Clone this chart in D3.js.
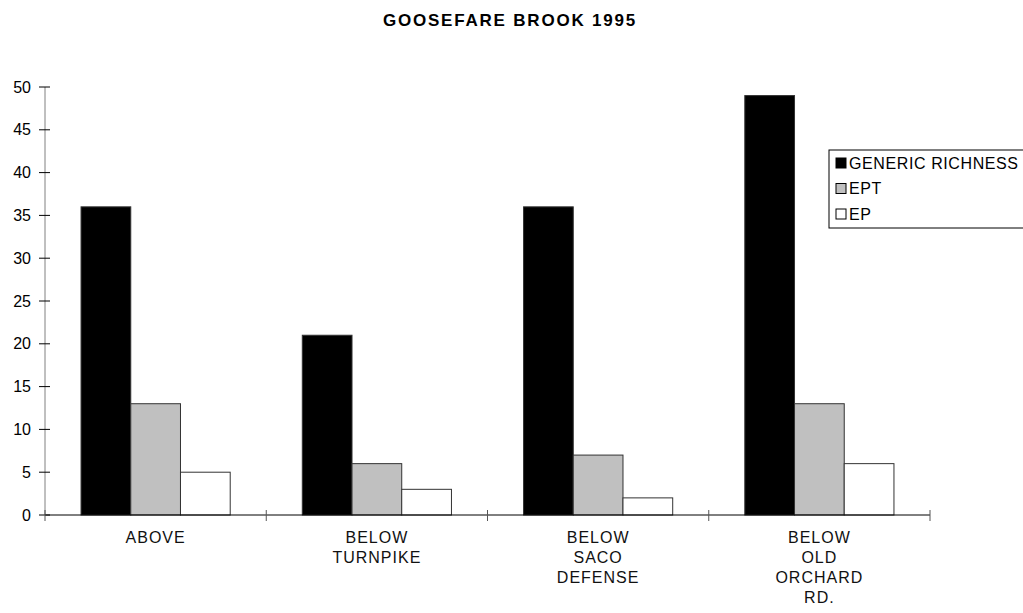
<!DOCTYPE html>
<html>
<head>
<meta charset="utf-8">
<script src="https://cdn.jsdelivr.net/npm/d3@7"></script>
<style>
  html, body { margin: 0; padding: 0; background: #fff; }
  svg { display: block; font-family: "Liberation Sans", Arial, sans-serif; }
</style>
</head>
<body>
<svg id="chart" width="1023" height="613"></svg>
<script>
// Sampling sites along the brook
const sites = [
  ["ABOVE"],
  ["BELOW", "TURNPIKE"],
  ["BELOW", "SACO", "DEFENSE"],
  ["BELOW", "OLD", "ORCHARD", "RD."]
];
const seriesNames = ["GENERIC RICHNESS", "EPT", "EP"];
const genericRichness = [36, 21, 36, 49];
const ept = [13, 6, 7, 13];
const ep = [5, 3, 2, 6];
const yTicks = [0, 5, 10, 15, 20, 25, 30, 35, 40, 45, 50];
const fills = ["#000000", "#c0c0c0", "#ffffff"];

const seriesValues = [genericRichness, ept, ep];

const svg = d3.select("#chart");
const margin = { left: 45, right: 93, top: 87, bottom: 98 };
const W = 1023, H = 613;

const x0 = d3.scaleBand()
  .domain(d3.range(sites.length))
  .range([margin.left, W - margin.right])
  .paddingInner(0)
  .paddingOuter(0);

const x1 = d3.scaleBand()
  .domain(d3.range(seriesNames.length))
  .range([0, x0.bandwidth()])
  .paddingOuter(0.725)
  .paddingInner(0);

const y = d3.scaleLinear()
  .domain([0, 50])
  .range([H - margin.bottom, margin.top]);

// Title
svg.append("text")
  .attr("x", 510)
  .attr("y", 26)
  .attr("text-anchor", "middle")
  .attr("font-size", "17px")
  .attr("font-weight", "bold")
  .attr("letter-spacing", "1.8px")
  .attr("fill", "#000")
  .text("GOOSEFARE BROOK 1995");

// Bars
const groups = svg.append("g").selectAll("g")
  .data(sites)
  .join("g")
  .attr("transform", (d, i) => `translate(${x0(i)},0)`);

groups.selectAll("rect")
  .data((d, i) => seriesValues.map((vals, s) => ({ s, v: vals[i] })))
  .join("rect")
  .attr("x", d => x1(d.s))
  .attr("y", d => y(d.v))
  .attr("width", x1.bandwidth())
  .attr("height", d => y(0) - y(d.v))
  .attr("fill", d => fills[d.s])
  .attr("stroke", "#333")
  .attr("stroke-width", 1);

// Y axis
const yAxis = svg.append("g")
  .attr("transform", `translate(${margin.left},0)`);
yAxis.append("line")
  .attr("x1", 0).attr("x2", 0)
  .attr("y1", y(50)).attr("y2", y(0))
  .attr("stroke", "#808080");
yAxis.selectAll(".tick")
  .data(yTicks)
  .join("line")
  .attr("x1", -6).attr("x2", 5)
  .attr("y1", d => y(d)).attr("y2", d => y(d))
  .attr("stroke", "#000");
yAxis.selectAll(".lbl")
  .data(yTicks)
  .join("text")
  .attr("x", -14)
  .attr("y", d => y(d))
  .attr("dy", "0.35em")
  .attr("text-anchor", "end")
  .attr("font-size", "16px")
  .attr("fill", "#000")
  .text(d => d);

// X axis
const xAxis = svg.append("g");
xAxis.append("line")
  .attr("x1", margin.left).attr("x2", W - margin.right)
  .attr("y1", y(0)).attr("y2", y(0))
  .attr("stroke", "#000");
const boundaries = d3.range(sites.length + 1).map(i =>
  i < sites.length ? x0(i) : x0(i - 1) + x0.bandwidth());
xAxis.selectAll(".xt")
  .data(boundaries)
  .join("line")
  .attr("x1", d => d).attr("x2", d => d)
  .attr("y1", y(0) - 5).attr("y2", y(0) + 6)
  .attr("stroke", "#555");

const xl = xAxis.selectAll(".xl")
  .data(sites)
  .join("text")
  .attr("text-anchor", "middle")
  .attr("font-size", "16px")
  .attr("letter-spacing", "1px")
  .attr("fill", "#111");
xl.selectAll("tspan")
  .data((d, i) => d.map(t => ({ t, i })))
  .join("tspan")
  .attr("x", d => x0(d.i) + x0.bandwidth() / 2)
  .attr("y", (d, j) => y(0) + 28 + j * 20)
  .text(d => d.t);

// Legend
const legend = svg.append("g").attr("transform", "translate(829,150)");
legend.append("rect")
  .attr("x", 0).attr("y", 0)
  .attr("width", 200).attr("height", 78)
  .attr("fill", "#fff")
  .attr("stroke", "#000");
const items = legend.selectAll(".li")
  .data(seriesNames)
  .join("g")
  .attr("transform", (d, i) => `translate(7,${13 + i * 25.5})`);
items.append("rect")
  .attr("x", 0).attr("y", -5)
  .attr("width", 10).attr("height", 10)
  .attr("fill", (d, i) => fills[i])
  .attr("stroke", "#000");
items.append("text")
  .attr("x", 13)
  .attr("y", 0)
  .attr("dy", "0.35em")
  .attr("font-size", "16px")
  .attr("letter-spacing", "0.6px")
  .attr("fill", "#000")
  .text(d => d);
</script>
</body>
</html>
